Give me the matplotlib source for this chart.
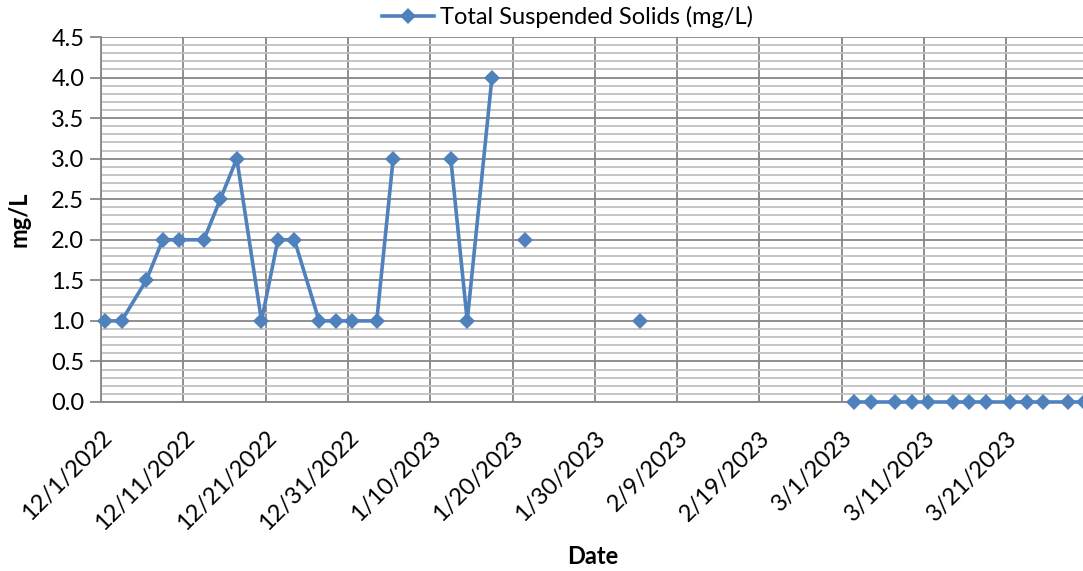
import numpy as np
import pandas as pd
import matplotlib
matplotlib.use("Agg")
import matplotlib.pyplot as plt
from matplotlib.ticker import MultipleLocator, FormatStrFormatter

plt.rcParams['font.family'] = ['Lato', 'DejaVu Sans']

# Sampling dates and TSS results (blank = no result reported)
sample_dates = [
    "2022-12-01", "2022-12-03", "2022-12-06", "2022-12-08", "2022-12-10",
    "2022-12-13", "2022-12-15", "2022-12-17", "2022-12-20", "2022-12-22",
    "2022-12-24", "2022-12-27", "2022-12-29", "2022-12-31", "2023-01-03",
    "2023-01-05", "2023-01-10", "2023-01-12", "2023-01-14", "2023-01-17",
    "2023-01-19", "2023-01-21", "2023-01-26", "2023-02-04", "2023-02-14",
    "2023-03-02", "2023-03-04", "2023-03-07", "2023-03-09", "2023-03-11",
    "2023-03-14", "2023-03-16", "2023-03-18", "2023-03-21", "2023-03-23",
    "2023-03-25", "2023-03-28", "2023-03-30",
]
tss_mg_l = [
    1.0, 1.0, 1.5, 2.0, 2.0,
    2.0, 2.5, 3.0, 1.0, 2.0,
    2.0, 1.0, 1.0, 1.0, 1.0,
    3.0, np.nan, 3.0, 1.0, 4.0,
    np.nan, 2.0, np.nan, 1.0, np.nan,
    0.0, 0.0, 0.0, 0.0, 0.0,
    0.0, 0.0, 0.0, 0.0, 0.0,
    0.0, 0.0, 0.0,
]
series_label = "Total Suspended Solids (mg/L)"
x_title = "Date"
y_title = "mg/L"

axis_start = pd.Timestamp("2022-12-01")
axis_end = pd.Timestamp("2023-03-31")
last_tick = pd.Timestamp("2023-03-21")

BLUE = "#4F81BD"
MAJOR = "#878787"
MINOR = "#C0C0C0"
FS = 17

W, H = 1083, 571
left_px, right_px, top_px, bottom_px = 101, 1088.6, 37, 402

fig = plt.figure(figsize=(W / 100, H / 100), dpi=100)
ax = fig.add_axes([left_px / W, 1 - bottom_px / H,
                   (right_px - left_px) / W, (bottom_px - top_px) / H])

# each reading sits in the middle of its day on the date axis
x = pd.to_datetime(sample_dates) + pd.Timedelta(hours=12)
ax.plot(x, tss_mg_l, color=BLUE, lw=2.6, marker="D", ms=7.8,
        markeredgewidth=0, label=series_label, clip_on=False, zorder=5)

ax.set_xlim(axis_start, axis_end)
ax.set_ylim(0, 4.5)

ticks = pd.date_range(axis_start, last_tick, freq="10D")
ax.set_xticks(ticks)
ax.set_xticklabels([f"{d.month}/{d.day}/{d.year}" for d in ticks],
                   rotation=45, ha="right", va="top", rotation_mode="anchor",
                   fontsize=FS)
ax.tick_params(axis="x", length=0, pad=18)

ax.yaxis.set_major_locator(MultipleLocator(0.5))
ax.yaxis.set_minor_locator(MultipleLocator(0.1))
ax.yaxis.set_major_formatter(FormatStrFormatter("%.1f"))
ax.tick_params(axis="y", which="major", length=8, width=1.3, color=MAJOR,
               labelsize=FS, pad=4)
ax.tick_params(axis="y", which="minor", length=0)

ax.grid(True, which="major", axis="both", color=MAJOR, lw=1.3)
ax.grid(True, which="minor", axis="y", color=MINOR, lw=1.3)
ax.set_axisbelow(True)

for side in ("top", "right"):
    ax.spines[side].set_visible(False)
for side in ("left", "bottom"):
    ax.spines[side].set_color(MAJOR)
    ax.spines[side].set_linewidth(1.3)

span = right_px - left_px
ax.set_xlabel(x_title, fontsize=FS, fontweight="bold")
ax.set_ylabel(y_title, fontsize=FS, fontweight="bold")
ax.xaxis.set_label_coords((593 - left_px) / span, -(545 - bottom_px) / (bottom_px - top_px))
ax.yaxis.set_label_coords(-(left_px - 31) / span, 0.5)

fig.legend(loc="center left", bbox_to_anchor=(382 / W, 1 - 17 / H),
           frameon=False, fontsize=FS, handlelength=2.2,
           handletextpad=0.25, borderpad=0, borderaxespad=0)

fig.savefig("out.png", dpi=100)
